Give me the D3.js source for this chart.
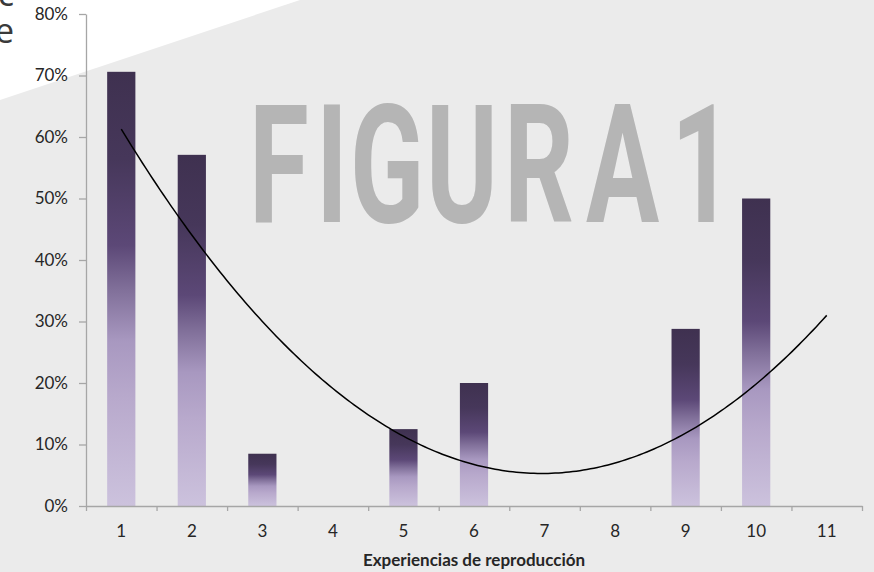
<!DOCTYPE html>
<html>
<head>
<meta charset="utf-8">
<script src="https://cdn.jsdelivr.net/npm/d3@7"></script>
<style>
  html, body { margin: 0; padding: 0; background: #ffffff; }
  svg { display: block; }
</style>
</head>
<body>
<svg width="874" height="572"></svg>
<script>
const categories = ['1', '2', '3', '4', '5', '6', '7', '8', '9', '10', '11'];
const shares = [0.706, 0.571, 0.085, 0, 0.125, 0.2, 0, 0, 0.288, 0.5, 0];
const yTicks = [0, 0.1, 0.2, 0.3, 0.4, 0.5, 0.6, 0.7, 0.8];
const xTitle = 'Experiencias de reproducción';
const watermark = 'FIGURA 1';

const width = 874;
const height = 572;
const margin = { top: 14, right: 12, bottom: 66, left: 86 };
const plotBottom = height - margin.bottom;
const plotRight = width - margin.right;

const axisColor = '#a6a6a6';
const textColor = '#262626';
const font = "Lato, 'Open Sans', sans-serif";

const svg = d3.select('svg');

// background: grey page with a white corner cut off top-left
svg.append('rect')
  .attr('width', width)
  .attr('height', height)
  .attr('fill', '#ebebeb');
svg.append('path')
  .attr('d', 'M0,0 L300,0 L0,100 Z')
  .attr('fill', '#ffffff');

// fragments of the page text that the crop cuts off
svg.append('text')
  .text('c')
  .attr('x', 14)
  .attr('y', 6)
  .attr('text-anchor', 'end')
  .style('font-family', "'Open Sans', sans-serif")
  .style('font-size', '34px')
  .attr('fill', '#3a3a3a');
svg.append('text')
  .text('e')
  .attr('x', 14)
  .attr('y', 43)
  .attr('text-anchor', 'end')
  .style('font-family', "'Open Sans', sans-serif")
  .style('font-size', '34px')
  .attr('fill', '#3a3a3a');

// scales
const xBand = d3.scaleBand(categories, [margin.left, plotRight])
  .paddingInner(0.6)
  .paddingOuter(0.3);
const xLin = d3.scaleLinear([0.5, categories.length + 0.5], [margin.left, plotRight]);
const yScale = d3.scaleLinear([0, 0.8], [plotBottom, margin.top]);

// watermark, a narrow display face squeezed out of Roboto Bold
const squeeze = 0.66;
const letterX = [249, 316, 350, 426, 504, 586, 650, 671];
svg.append('text')
  .text(watermark)
  .attr('x', letterX.map((v) => v / squeeze).join(' '))
  .attr('y', 222)
  .attr('transform', `scale(${squeeze}, 1)`)
  .style('font-family', 'Roboto, sans-serif')
  .style('font-weight', 'bold')
  .style('font-size', '165px')
  .attr('fill', '#b5b5b5');

// bar gradient
const grad = svg.append('defs').append('linearGradient')
  .attr('id', 'barFill')
  .attr('x1', 0).attr('y1', 0)
  .attr('x2', 0).attr('y2', 1);
[
  [0, '#3f3150'],
  [0.2, '#46375a'],
  [0.4, '#5c4877'],
  [0.5, '#806f99'],
  [0.62, '#a898c0'],
  [0.75, '#b8a9cc'],
  [1, '#ccc2dd'],
].forEach(([o, c]) => {
  grad.append('stop').attr('offset', o).attr('stop-color', c);
});

const data = categories.map((c, i) => ({ cat: c, n: i + 1, value: shares[i] }));

svg.selectAll('rect.bar')
  .data(data.filter((d) => d.value > 0))
  .join('rect')
    .attr('class', 'bar')
    .attr('x', (d) => xBand(d.cat))
    .attr('y', (d) => yScale(d.value))
    .attr('width', xBand.bandwidth())
    .attr('height', (d) => plotBottom - yScale(d.value))
    .attr('fill', 'url(#barFill)');

// polynomial (order 2) trendline, least squares over all categories
function quadFit(points) {
  const s = [0, 0, 0, 0, 0];
  const t = [0, 0, 0];
  points.forEach(({ n, value }) => {
    for (let k = 0; k < 5; k++) s[k] += Math.pow(n, k);
    for (let k = 0; k < 3; k++) t[k] += value * Math.pow(n, k);
  });
  const m = [
    [s[0], s[1], s[2], t[0]],
    [s[1], s[2], s[3], t[1]],
    [s[2], s[3], s[4], t[2]],
  ];
  for (let i = 0; i < 3; i++) {
    for (let j = i + 1; j < 3; j++) {
      const f = m[j][i] / m[i][i];
      for (let k = i; k < 4; k++) m[j][k] -= f * m[i][k];
    }
  }
  const c = [0, 0, 0];
  for (let i = 2; i >= 0; i--) {
    let acc = m[i][3];
    for (let k = i + 1; k < 3; k++) acc -= m[i][k] * c[k];
    c[i] = acc / m[i][i];
  }
  return (x) => c[0] + c[1] * x + c[2] * x * x;
}
const fit = quadFit(data);
const trendX = d3.range(1, categories.length + 0.001, 0.05);

const trendLine = d3.line()
  .x((x) => xLin(x))
  .y((x) => yScale(fit(x)));

svg.append('path')
  .attr('d', trendLine(trendX))
  .attr('fill', 'none')
  .attr('stroke', '#000000')
  .attr('stroke-width', 1.5);

// axes
const yAxis = d3.axisLeft(yScale)
  .tickValues(yTicks)
  .tickFormat(d3.format('.0%'))
  .tickSize(7)
  .tickSizeOuter(0)
  .tickPadding(11);

const yG = svg.append('g')
  .attr('transform', `translate(${margin.left}, 0)`)
  .call(yAxis);

const xTickAxis = d3.axisBottom(xLin)
  .tickValues(d3.range(0.5, categories.length + 1, 1))
  .tickFormat('')
  .tickSize(5)
  .tickSizeOuter(0);

const xTickG = svg.append('g')
  .attr('transform', `translate(0, ${plotBottom})`)
  .call(xTickAxis);

const xLabelAxis = d3.axisBottom(xBand)
  .tickSize(0)
  .tickPadding(19);

const xLabelG = svg.append('g')
  .attr('transform', `translate(0, ${plotBottom})`)
  .call(xLabelAxis);
xLabelG.select('.domain').remove();

[yG, xTickG].forEach((g) => {
  g.select('.domain').attr('stroke', axisColor).attr('stroke-width', 1.3);
  g.selectAll('.tick line').attr('stroke', axisColor).attr('stroke-width', 1.3);
});

[yG, xLabelG].forEach((g) => {
  g.selectAll('text')
    .attr('fill', textColor)
    .style('font-family', font)
    .style('font-size', '17px');
});

svg.append('text')
  .text(xTitle)
  .attr('x', (margin.left + plotRight) / 2)
  .attr('y', 566)
  .attr('text-anchor', 'middle')
  .attr('fill', textColor)
  .style('font-family', font)
  .style('font-weight', 'bold')
  .style('font-size', '17px');
</script>
</body>
</html>
